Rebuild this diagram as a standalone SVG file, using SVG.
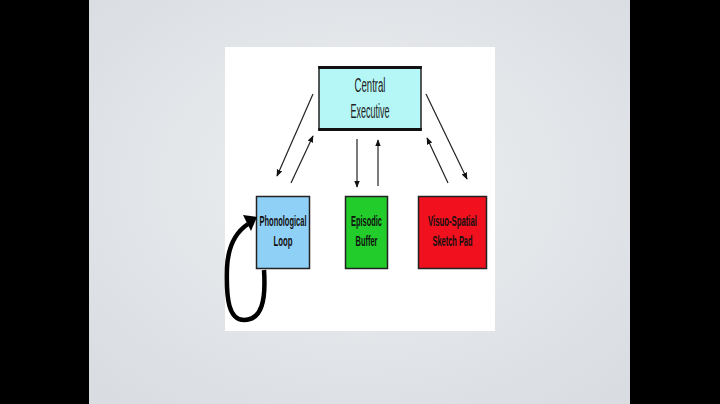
<svg xmlns="http://www.w3.org/2000/svg" width="720" height="404" viewBox="0 0 720 404">
  <defs>
    <radialGradient id="slide" cx="0.5" cy="0.45" r="0.7">
      <stop offset="0" stop-color="#eef0f2"/>
      <stop offset="1" stop-color="#d9dce1"/>
    </radialGradient>
    <marker id="ah" viewBox="0 0 10 10" refX="9" refY="5" markerWidth="7" markerHeight="7" markerUnits="userSpaceOnUse" orient="auto">
      <path d="M0,1 L10,5 L0,9 Z" fill="#111"/>
    </marker>
    <style>
      .lbl { font-family: "Liberation Sans", Arial, sans-serif; font-weight: bold; font-size: 15px; fill: #111; }
      .ce { font-family: "Liberation Sans", Arial, sans-serif; font-size: 20px; fill: #222; }
      .box { stroke: #222; stroke-width: 1.5; }
      .conn line { stroke: #222; stroke-width: 1.2; fill: none; marker-end: url(#ah); }
    </style>
  </defs>

  <rect x="0" y="0" width="720" height="404" fill="#000"/>
  <rect x="89" y="0" width="541" height="404" fill="url(#slide)"/>
  <rect x="225" y="47" width="270" height="284" fill="#ffffff"/>

  <g id="central-executive">
    <rect class="box" x="319" y="67" width="102" height="63" fill="#b4f7f6"/>
    <rect x="318.25" y="66" width="103.5" height="3" fill="#111"/>
    <rect x="318.25" y="128" width="103.5" height="3" fill="#111"/>
    <text class="ce" x="370" y="92" text-anchor="middle" textLength="31" lengthAdjust="spacingAndGlyphs">Central</text>
    <text class="ce" x="370" y="118" text-anchor="middle" textLength="39" lengthAdjust="spacingAndGlyphs">Executive</text>
  </g>

  <g id="phonological-loop">
    <rect class="box" x="256.5" y="196.5" width="53" height="72" fill="#8fd0f6"/>
    <text class="lbl" x="283" y="226" text-anchor="middle" textLength="47" lengthAdjust="spacingAndGlyphs">Phonological</text>
    <text class="lbl" x="283" y="246" text-anchor="middle" textLength="19" lengthAdjust="spacingAndGlyphs">Loop</text>
  </g>

  <g id="episodic-buffer">
    <rect class="box" x="345.5" y="196.5" width="42" height="72" fill="#22cc2a"/>
    <text class="lbl" x="366.5" y="226" text-anchor="middle" textLength="31" lengthAdjust="spacingAndGlyphs">Episodic</text>
    <text class="lbl" x="366.5" y="246" text-anchor="middle" textLength="22" lengthAdjust="spacingAndGlyphs">Buffer</text>
  </g>

  <g id="visuo-spatial-sketch-pad">
    <rect class="box" x="418.5" y="196.5" width="68" height="72" fill="#f0101e"/>
    <text class="lbl" x="452.5" y="226" text-anchor="middle" textLength="49" lengthAdjust="spacingAndGlyphs">Visuo-Spatial</text>
    <text class="lbl" x="452.5" y="246" text-anchor="middle" textLength="40" lengthAdjust="spacingAndGlyphs">Sketch Pad</text>
  </g>

  <g id="connectors" class="conn">
    <line x1="313" y1="94" x2="277" y2="176"/>
    <line x1="291" y1="183" x2="313" y2="136"/>
    <line x1="357" y1="139" x2="357" y2="187"/>
    <line x1="378" y1="186" x2="378" y2="140"/>
    <line x1="426" y1="94" x2="467" y2="179"/>
    <line x1="448" y1="183" x2="427" y2="138"/>
    <g id="loop-arrow">
      <path d="M264,270 C266,300 262,320 244,320 C229,320 226,300 227,268 C228,245 236,232 248,224" fill="none" stroke="#000" stroke-width="4.5" stroke-linecap="butt"/>
      <polygon points="257,217 243,215 251,231" fill="#000"/>
    </g>
  </g>
</svg>
